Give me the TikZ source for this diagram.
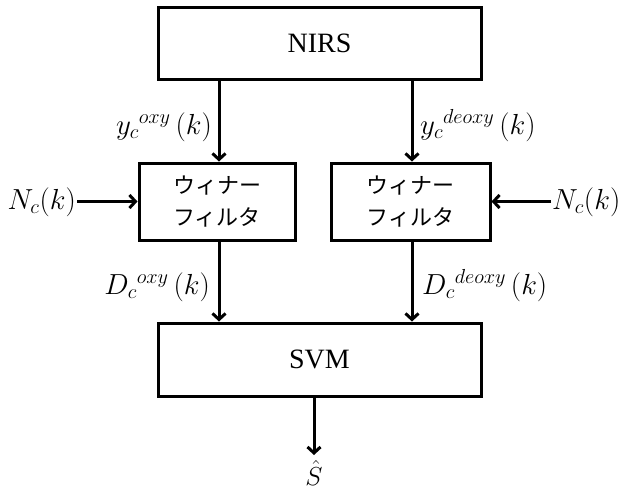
\RequirePackage{fix-cm}
\documentclass[tikz,border=0pt]{standalone}
\usepackage{fontspec}
\setmainfont{Liberation Serif}
\newfontfamily\jpfont{Noto Sans CJK JP}
\usetikzlibrary{arrows.meta}
\tikzset{
  blockbox/.style={draw, line width=3pt, inner sep=0pt, minimum width=#1},
  blockbox/.default=323pt,
  flow/.style={line width=3pt, -{Straight Barb[length=6pt,width=13pt,line width=3pt]}},
  lbl/.style={inner sep=1pt, font=\fontsize{29}{33}\selectfont},
  bigtxt/.style={font=\fontsize{28}{32}\selectfont},
  jptxt/.style={font=\jpfont\fontsize{22}{32}\selectfont, align=center},
}
\begin{document}
\begin{tikzpicture}[x=1pt,y=-1pt]
\useasboundingbox (0,0) rectangle (621,488);
% blocks
\node[blockbox=323pt, minimum height=72pt, bigtxt] (nirs) at (319.5,43) {NIRS};
\node[blockbox=156pt, minimum height=77pt, jptxt] (f1) at (217,201.5) {ウィナー\\フィルタ};
\node[blockbox=159pt, minimum height=77pt, jptxt] (f2) at (410.5,201.5) {ウィナー\\フィルタ};
\node[blockbox=323pt, minimum height=73pt, bigtxt] (svm) at (319.5,359.5) {SVM};
% arrows between blocks
\coordinate (xl) at (219,0);
\coordinate (xr) at (412,0);
\draw[flow] (nirs.south -| xl) -- (f1.north -| xl);
\draw[flow] (nirs.south -| xr) -- (f2.north -| xr);
\draw[flow] (f1.south -| xl) -- (svm.north -| xl);
\draw[flow] (f2.south -| xr) -- (svm.north -| xr);
% edge labels
\node[lbl, anchor=base east] (ly1) at (213,134) {$y_c{}^{oxy}\,(k)$};
\node[lbl, anchor=base west] (ly2) at (419,134) {$y_c{}^{deoxy}\,(k)$};
\node[lbl, anchor=base east] (ld1) at (211,294) {$D_c{}^{oxy}\,(k)$};
\node[lbl, anchor=base west] (ld2) at (421,294) {$D_c{}^{deoxy}\,(k)$};
% noise inputs
\node[lbl, anchor=base east] (nl) at (77,209) {$N_c(k)$};
\node[lbl, anchor=base west] (nr) at (551,209) {$N_c(k)$};
\draw[flow] (nl.east |- f1.west) -- (f1.west);
\draw[flow] (nr.west |- f2.east) -- (f2.east);
% output
\coordinate (out) at (314,455);
\draw[flow] (svm.south -| out) -- (out);
\node[inner sep=0pt, anchor=base, font=\fontsize{26}{30}\selectfont] (sh) at (314,485) {$\hat{S}$};
\end{tikzpicture}
\end{document}
